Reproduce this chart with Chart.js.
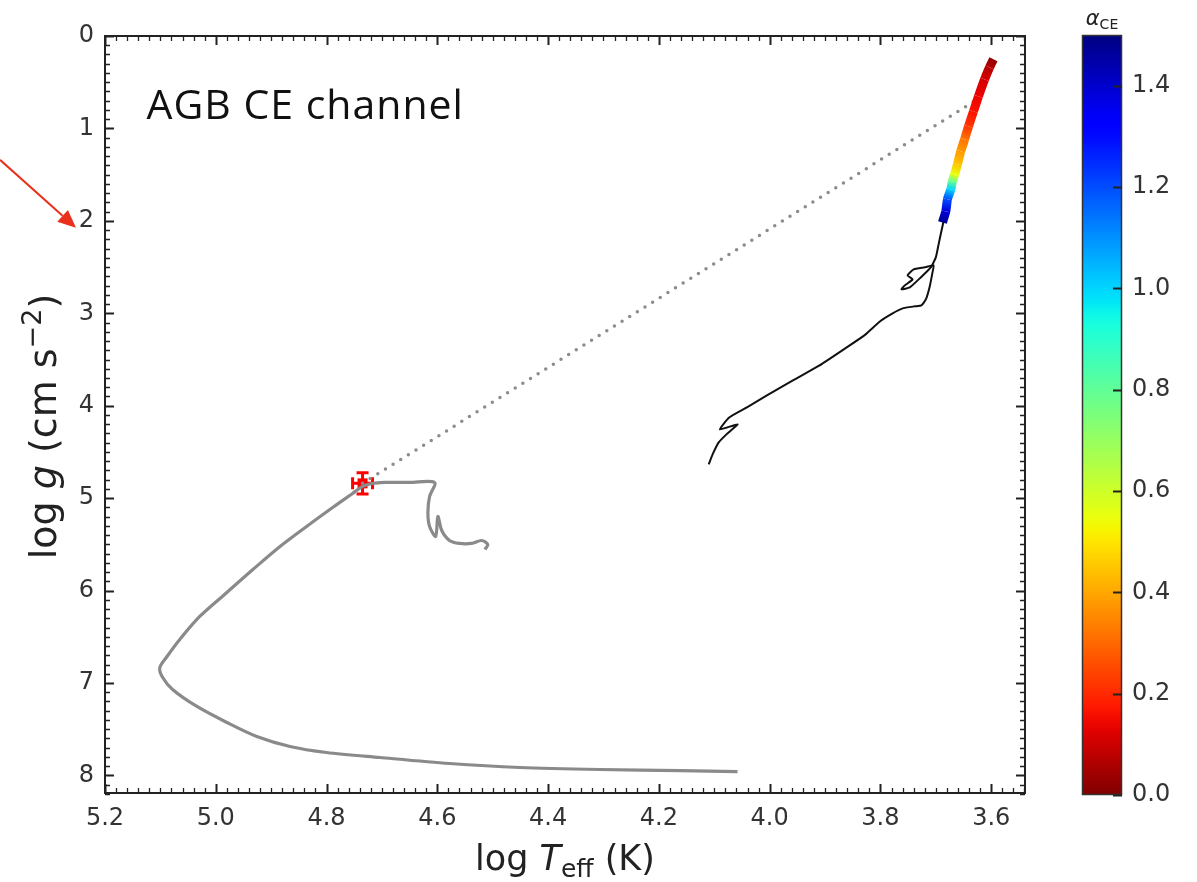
<!DOCTYPE html>
<html>
<head>
<meta charset="utf-8">
<script src="https://cdn.jsdelivr.net/npm/chart.js@4.4.1/dist/chart.umd.min.js"></script>
<style>
  html, body { margin: 0; padding: 0; background: #fff; }
  #wrap { position: relative; width: 1197px; height: 882px; overflow: hidden; }
  #main { position: absolute; left: 0; top: 0; }
  #cbar { position: absolute; left: 1040px; top: 0; }
</style>
</head>
<body>
<div id="wrap">
  <canvas id="main" width="1060" height="882"></canvas>
  <canvas id="cbar" width="157" height="882"></canvas>
</div>
<script>
// ---- axis ranges and ticks ----
const xRange = [5.2, 3.539];          // log Teff, drawn hot (left) to cool (right)
const yRange = [0, 8.19];             // log g, drawn downward
const xTicks = [5.2, 5.0, 4.8, 4.6, 4.4, 4.2, 4.0, 3.8, 3.6];
const yTicks = [0, 1, 2, 3, 4, 5, 6, 7, 8];
const xMinorStep = 0.02;
const yMinorStep = 0.1;
const cbRange = [0, 1.5];             // alpha_CE colour scale
const cbTicks = [0.0, 0.2, 0.4, 0.6, 0.8, 1.0, 1.2, 1.4];

// ---- post-common-envelope remnant track (grey) ----
const coolTeff = [4.514, 4.509, 4.520, 4.538, 4.560, 4.578, 4.592, 4.599, 4.603, 4.614,
                  4.617, 4.614, 4.605, 4.650, 4.695, 4.718, 4.735, 4.753, 4.789, 4.836,
                  4.884, 4.933, 4.980, 5.029, 5.065, 5.088, 5.101, 5.097, 5.078, 5.034,
                  4.980, 4.926, 4.866, 4.800, 4.704, 4.578, 4.451, 4.307, 4.162, 4.058];
const coolLogg = [5.555, 5.501, 5.458, 5.490, 5.490, 5.458, 5.350, 5.198, 5.414, 5.306,
                  5.155, 4.982, 4.830, 4.830, 4.830, 4.841, 4.873, 4.949, 5.101, 5.306,
                  5.523, 5.772, 6.020, 6.280, 6.529, 6.713, 6.832, 6.930, 7.070, 7.254,
                  7.427, 7.579, 7.687, 7.752, 7.806, 7.871, 7.914, 7.936, 7.947, 7.958];

// ---- progenitor track up to the AGB (black) ----
const rgbTeff = [4.110, 4.103, 4.092, 4.078, 4.058, 4.090, 4.073, 4.041, 4.005, 3.958,
                 3.910, 3.861, 3.829, 3.801, 3.778, 3.760, 3.738, 3.726, 3.718, 3.711,
                 3.706, 3.704, 3.720, 3.740, 3.751, 3.742, 3.756, 3.762, 3.747, 3.729,
                 3.709, 3.700, 3.695, 3.690, 3.686];
const rgbLogg = [4.635, 4.527, 4.397, 4.310, 4.202, 4.256, 4.127, 4.018, 3.888, 3.726,
                 3.564, 3.369, 3.239, 3.088, 3.001, 2.947, 2.925, 2.915, 2.850, 2.709,
                 2.557, 2.482, 2.503, 2.525, 2.590, 2.633, 2.698, 2.741, 2.720, 2.622,
                 2.503, 2.395, 2.254, 2.113, 2.005];

// ---- AGB section coloured by the required alpha_CE ----
const agbTeff  = [3.688, 3.682, 3.679, 3.673, 3.670, 3.666, 3.661, 3.655, 3.648, 3.641,
                  3.632, 3.623, 3.612, 3.603, 3.596];
const agbLogg  = [2.017, 1.897, 1.767, 1.659, 1.572, 1.497, 1.389, 1.248, 1.118, 0.977,
                  0.815, 0.653, 0.469, 0.339, 0.252];
const agbAlpha = [1.48, 1.38, 1.20, 1.00, 0.78, 0.55, 0.45, 0.38, 0.32, 0.22,
                  0.16, 0.14, 0.11, 0.07, 0.02];

// ---- link between the observed star and its progenitor state ----
const linkTeff = [4.735, 3.630];
const linkLogg = [4.84, 0.703];

// ---- observed star with uncertainties ----
const obsTeff = [4.735];
const obsLogg = [4.84];
const obsErrTeff = [0.018];
const obsErrLogg = [0.115];

const FONT = 'DejaVu Sans';

// matplotlib "jet" colormap
function interp(t, xs, ys) {
  for (let i = 1; i < xs.length; i++) {
    if (t <= xs[i]) {
      const f = (t - xs[i - 1]) / (xs[i] - xs[i - 1]);
      return ys[i - 1] + f * (ys[i] - ys[i - 1]);
    }
  }
  return ys[ys.length - 1];
}
function jet(t) {
  t = Math.min(1, Math.max(0, t));
  const r = interp(t, [0, 0.35, 0.66, 0.89, 1], [0, 0, 1, 1, 0.5]);
  const g = interp(t, [0, 0.125, 0.375, 0.64, 0.91, 1], [0, 0, 1, 1, 0, 0]);
  const b = interp(t, [0, 0.11, 0.34, 0.65, 1], [0.5, 1, 1, 0, 0]);
  return `rgb(${Math.round(r * 255)},${Math.round(g * 255)},${Math.round(b * 255)})`;
}
// reversed jet: small alpha -> dark red, large alpha -> dark blue
function alphaColor(a) {
  return jet(1 - (a - cbRange[0]) / (cbRange[1] - cbRange[0]));
}

const pts = (xs, ys) => xs.map((v, i) => ({ x: v, y: ys[i] }));

function richWidth(ctx, parts) {
  let w = 0;
  for (const p of parts) { ctx.font = p.font; w += ctx.measureText(p.text).width; }
  return w;
}
function drawRich(ctx, parts, cx, baseline) {
  let x = cx - richWidth(ctx, parts) / 2;
  ctx.textAlign = 'left';
  ctx.textBaseline = 'alphabetic';
  for (const p of parts) {
    ctx.font = p.font;
    ctx.fillText(p.text, x, baseline + (p.dy || 0));
    x += ctx.measureText(p.text).width;
  }
}

// each AGB segment blends between the colours of its two end points
function agbSegmentColor(c) {
  const a0 = agbAlpha[c.p0DataIndex];
  const a1 = agbAlpha[c.p1DataIndex];
  const { p0, p1 } = c;
  if (!p0 || !p1 || !isFinite(p0.x) || !isFinite(p1.x) || !isFinite(p0.y) || !isFinite(p1.y) ||
      (p0.x === p1.x && p0.y === p1.y)) {
    return alphaColor((a0 + a1) / 2);
  }
  const g = c.chart.ctx.createLinearGradient(p0.x, p0.y, p1.x, p1.y);
  g.addColorStop(0, alphaColor(a0));
  g.addColorStop(1, alphaColor(a1));
  return g;
}

// frame, inward ticks on all sides, axis titles, label and arrow
const frameDeco = {
  id: 'frameDeco',
  beforeDatasetsDraw(chart) {
    // observed point with error bars (under the tracks)
    const { ctx, scales: { x, y } } = chart;
    ctx.save();
    ctx.strokeStyle = '#ff0000';
    ctx.fillStyle = '#ff0000';
    ctx.lineWidth = 3;
    for (let i = 0; i < obsTeff.length; i++) {
      const cx = x.getPixelForValue(obsTeff[i]);
      const cy = y.getPixelForValue(obsLogg[i]);
      const x0 = x.getPixelForValue(obsTeff[i] + obsErrTeff[i]);
      const x1 = x.getPixelForValue(obsTeff[i] - obsErrTeff[i]);
      const y0 = y.getPixelForValue(obsLogg[i] - obsErrLogg[i]);
      const y1 = y.getPixelForValue(obsLogg[i] + obsErrLogg[i]);
      const cap = 6;
      ctx.beginPath();
      ctx.moveTo(x0, cy); ctx.lineTo(x1, cy);
      ctx.moveTo(cx, y0); ctx.lineTo(cx, y1);
      ctx.moveTo(x0, cy - cap); ctx.lineTo(x0, cy + cap);
      ctx.moveTo(x1, cy - cap); ctx.lineTo(x1, cy + cap);
      ctx.moveTo(cx - cap, y0); ctx.lineTo(cx + cap, y0);
      ctx.moveTo(cx - cap, y1); ctx.lineTo(cx + cap, y1);
      ctx.stroke();
      ctx.fillRect(cx - 5, cy - 5, 10, 10);
    }
    ctx.restore();
  },
  afterDraw(chart) {
    const { ctx, chartArea: a, scales: { x, y } } = chart;
    ctx.save();
    ctx.strokeStyle = '#222';
    ctx.lineWidth = 2;
    ctx.strokeRect(a.left, a.top, a.right - a.left, a.bottom - a.top);

    // x ticks (bottom and top)
    const nx = Math.round((xRange[0] - xRange[1]) / xMinorStep);
    for (let i = 0; i <= nx; i++) {
      const v = xRange[0] - i * xMinorStep;
      if (v < xRange[1]) break;
      const major = xTicks.some(t => Math.abs(t - v) < 1e-6);
      const len = major ? 9 : 5;
      const px = Math.round(x.getPixelForValue(v)) + 0.5;
      ctx.lineWidth = major ? 2 : 1.3;
      ctx.beginPath();
      ctx.moveTo(px, a.bottom); ctx.lineTo(px, a.bottom - len);
      ctx.moveTo(px, a.top); ctx.lineTo(px, a.top + len);
      ctx.stroke();
    }
    // y ticks (left and right)
    const ny = Math.round((yRange[1] - yRange[0]) / yMinorStep);
    for (let i = 0; i <= ny; i++) {
      const v = yRange[0] + i * yMinorStep;
      const major = yTicks.some(t => Math.abs(t - v) < 1e-6);
      const len = major ? 9 : 5;
      const py = Math.round(y.getPixelForValue(v)) + 0.5;
      ctx.lineWidth = major ? 2 : 1.3;
      ctx.beginPath();
      ctx.moveTo(a.left, py); ctx.lineTo(a.left + len, py);
      ctx.moveTo(a.right, py); ctx.lineTo(a.right - len, py);
      ctx.stroke();
    }

    // axis titles
    ctx.fillStyle = '#222';
    drawRich(ctx, [
      { text: 'log ', font: `35px "${FONT}"` },
      { text: 'T', font: `italic 35px "${FONT}"` },
      { text: 'eff', font: `25px "${FONT}"`, dy: 7 },
      { text: ' (K)', font: `35px "${FONT}"` }
    ], (a.left + a.right) / 2, 870);

    ctx.save();
    ctx.translate(56, (a.top + a.bottom) / 2 + 12);
    ctx.rotate(-Math.PI / 2);
    drawRich(ctx, [
      { text: 'log ', font: `38px "${FONT}"` },
      { text: 'g', font: `italic 38px "${FONT}"` },
      { text: ' (cm s', font: `38px "${FONT}"` },
      { text: '\u22122', font: `27px "${FONT}"`, dy: -15 },
      { text: ')', font: `38px "${FONT}"` }
    ], 0, 0);
    ctx.restore();

    // panel label
    ctx.save();
    ctx.fillStyle = '#111';
    ctx.font = '400 41px "Open Sans"';
    if ('letterSpacing' in ctx) ctx.letterSpacing = '1px';
    ctx.textAlign = 'left';
    ctx.textBaseline = 'alphabetic';
    ctx.fillText('AGB CE channel', x.getPixelForValue(5.125), y.getPixelForValue(0.9));
    ctx.restore();

    // red pointer towards the log g = 2 label
    const tipX = 76, tipY = y.getPixelForValue(2) + 7;
    const tailX = 0, tailY = tipY - 68;
    const ang = Math.atan2(tipY - tailY, tipX - tailX);
    const hl = 18, hw = 8;
    ctx.strokeStyle = '#e8301c';
    ctx.fillStyle = '#e8301c';
    ctx.lineWidth = 2;
    ctx.beginPath();
    ctx.moveTo(tailX, tailY);
    ctx.lineTo(tipX - hl * Math.cos(ang), tipY - hl * Math.sin(ang));
    ctx.stroke();
    ctx.beginPath();
    ctx.moveTo(tipX, tipY);
    ctx.lineTo(tipX - hl * Math.cos(ang) + hw * Math.sin(ang), tipY - hl * Math.sin(ang) - hw * Math.cos(ang));
    ctx.lineTo(tipX - hl * Math.cos(ang) - hw * Math.sin(ang), tipY - hl * Math.sin(ang) + hw * Math.cos(ang));
    ctx.closePath();
    ctx.fill();
    ctx.restore();
  }
};

new Chart(document.getElementById('main'), {
  type: 'line',
  data: {
    datasets: [
      {
        label: 'AGB (alpha_CE)',
        data: pts(agbTeff, agbLogg),
        borderWidth: 9,
        borderCapStyle: 'butt',
        borderJoinStyle: 'round',
        pointRadius: 0,
        tension: 0.2,
        borderColor: alphaColor(agbAlpha[0]),
        segment: { borderColor: agbSegmentColor }
      },
      {
        label: 'progenitor',
        data: pts(rgbTeff, rgbLogg),
        borderColor: '#111',
        borderWidth: 2,
        pointRadius: 0,
        tension: 0.15
      },
      {
        label: 'remnant',
        data: pts(coolTeff, coolLogg),
        borderColor: '#8a8a8a',
        borderWidth: 3.2,
        pointRadius: 0,
        tension: 0.3
      },
      {
        label: 'link',
        data: pts(linkTeff, linkLogg),
        borderColor: '#8c8c8c',
        borderWidth: 3.5,
        borderDash: [0, 9],
        borderCapStyle: 'round',
        pointRadius: 0
      }
    ]
  },
  options: {
    responsive: false,
    animation: false,
    devicePixelRatio: 1,
    layout: { padding: { top: 36, right: 35, left: 0, bottom: 0 } },
    plugins: { legend: { display: false }, tooltip: { enabled: false } },
    scales: {
      x: {
        type: 'linear',
        position: 'bottom',
        reverse: true,
        min: xRange[1],
        max: xRange[0],
        afterFit: s => { s.height = 89; },
        afterBuildTicks: s => { s.ticks = xTicks.map(v => ({ value: v })); },
        grid: { display: false, drawTicks: false },
        border: { display: false },
        ticks: {
          autoSkip: false,
          maxRotation: 0,
          padding: 11,
          color: '#333',
          font: { family: FONT, size: 24 },
          callback: v => Number(v).toFixed(1)
        }
      },
      y: {
        type: 'linear',
        reverse: true,
        min: yRange[0],
        max: yRange[1],
        afterFit: s => { s.width = 105; },
        afterBuildTicks: s => { s.ticks = yTicks.map(v => ({ value: v })); },
        grid: { display: false, drawTicks: false },
        border: { display: false },
        ticks: {
          autoSkip: false,
          padding: 11,
          color: '#333',
          font: { family: FONT, size: 24 },
          callback: v => String(v)
        }
      }
    }
  },
  plugins: [frameDeco]
});

// ---- colour bar ----
const cbarDeco = {
  id: 'cbarDeco',
  afterDraw(chart) {
    const { ctx, chartArea: a, scales: { y } } = chart;
    ctx.save();
    ctx.strokeStyle = '#333';
    ctx.lineWidth = 1.5;
    ctx.strokeRect(a.left + 0.5, a.top + 0.5, a.right - a.left - 1, a.bottom - a.top - 1);
    ctx.strokeStyle = '#222';
    ctx.lineWidth = 2;
    for (const v of cbTicks) {
      const py = Math.round(y.getPixelForValue(v)) + 0.5;
      ctx.beginPath();
      ctx.moveTo(a.right, py); ctx.lineTo(a.right - 9, py);
      ctx.stroke();
    }
    ctx.fillStyle = '#222';
    drawRich(ctx, [
      { text: '\u03b1', font: `italic 21px "${FONT}"` },
      { text: 'CE', font: `14px "${FONT}"`, dy: 4 }
    ], (a.left + a.right) / 2, 25);
    ctx.restore();
  }
};

function cbarGradient(c) {
  const ch = c.chart;
  const area = ch.chartArea;
  const ys = ch.scales && ch.scales.y;
  if (!area || !ys) return '#888';
  const y0 = ys.getPixelForValue(cbRange[0]);
  const y1 = ys.getPixelForValue(cbRange[1]);
  if (!isFinite(y0) || !isFinite(y1)) return '#888';
  const g = ch.ctx.createLinearGradient(0, y0, 0, y1);
  const n = 60;
  for (let i = 0; i <= n; i++) {
    const f = i / n;
    g.addColorStop(f, alphaColor(cbRange[0] + f * (cbRange[1] - cbRange[0])));
  }
  return g;
}

new Chart(document.getElementById('cbar'), {
  type: 'bar',
  data: {
    labels: [''],
    datasets: [{
      data: [[cbRange[0], cbRange[1]]],
      borderWidth: 0,
      barPercentage: 1,
      categoryPercentage: 1,
      backgroundColor: cbarGradient
    }]
  },
  options: {
    responsive: false,
    animation: false,
    devicePixelRatio: 1,
    layout: { padding: { left: 42, top: 35, bottom: 87, right: 0 } },
    plugins: { legend: { display: false }, tooltip: { enabled: false } },
    scales: {
      x: { display: false },
      y: {
        position: 'right',
        min: cbRange[0],
        max: cbRange[1],
        afterFit: s => { s.width = 75; },
        afterBuildTicks: s => { s.ticks = cbTicks.map(v => ({ value: v })); },
        grid: { display: false, drawTicks: false },
        border: { display: false },
        ticks: {
          padding: 10,
          color: '#333',
          font: { family: FONT, size: 24 },
          callback: v => Number(v).toFixed(1)
        }
      }
    }
  },
  plugins: [cbarDeco]
});
</script>
</body>
</html>
